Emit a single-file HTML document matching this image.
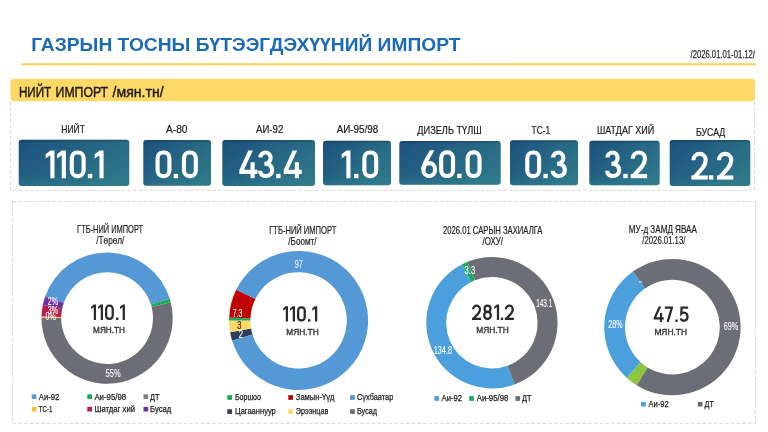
<!DOCTYPE html>
<html><head><meta charset="utf-8"><title>Import</title>
<style>
html,body{margin:0;padding:0;background:#fff;}
body{width:768px;height:432px;overflow:hidden;}
svg{display:block;font-family:"Liberation Sans",sans-serif;will-change:transform;}
</style></head><body>
<svg width="768" height="432" viewBox="0 0 768 432">
<defs>
<linearGradient id="g" x1="0" y1="0" x2="1" y2="0.6">
<stop offset="0" stop-color="#1c517e"/><stop offset="1" stop-color="#2d7588"/>
</linearGradient>
<linearGradient id="gt" x1="0" y1="0" x2="0" y2="1">
<stop offset="0" stop-color="#000" stop-opacity="0.22"/><stop offset="0.07" stop-color="#000" stop-opacity="0"/><stop offset="0.75" stop-color="#3aa0a0" stop-opacity="0"/><stop offset="1" stop-color="#3aa0a0" stop-opacity="0.18"/>
</linearGradient>
<clipPath id="cy"><rect x="-5" y="0" width="40" height="40"/></clipPath>
</defs>
<rect width="768" height="432" fill="#ffffff"/>
<text x="31.2" y="51.2" font-size="19.2" text-anchor="start" fill="#1a6ab6" font-weight="bold" textLength="429.3" lengthAdjust="spacingAndGlyphs" >ГАЗРЫН ТОСНЫ БҮТЭЭГДЭХҮҮНИЙ ИМПОРТ</text>
<line x1="22" y1="64.3" x2="755" y2="64.3" stroke="#f7d358" stroke-width="2" stroke-linecap="round"/>
<text x="755.0" y="58.0" font-size="10.5" text-anchor="end" fill="#2a2a2a" font-weight="normal" textLength="64.5" lengthAdjust="spacingAndGlyphs" stroke="#2a2a2a" stroke-width="0.25">/2026.01.01-01.12/</text>
<rect x="10.5" y="78.7" width="744.5" height="22.6" rx="3" fill="#ffd966"/>
<text x="18.9" y="97.0" font-size="15.5" text-anchor="start" fill="#1a1a1a" font-weight="normal" textLength="32.3" lengthAdjust="spacingAndGlyphs" stroke="#1a1a1a" stroke-width="0.45">НИЙТ</text>
<text x="55.6" y="97.0" font-size="15.5" text-anchor="start" fill="#1a1a1a" font-weight="normal" textLength="52.4" lengthAdjust="spacingAndGlyphs" stroke="#1a1a1a" stroke-width="0.45">ИМПОРТ</text>
<text x="112.6" y="97.0" font-size="15.5" text-anchor="start" fill="#1a1a1a" font-weight="normal" textLength="51.0" lengthAdjust="spacingAndGlyphs" stroke="#1a1a1a" stroke-width="0.45">/мян.тн/</text>
<path d="M10.7 101.5V190.3H754.4V101.5" fill="none" stroke="#bdbdbd" stroke-width="0.6" stroke-dasharray="3.8 1.9"/>
<rect x="12.4" y="201.5" width="743.2" height="221.8" fill="none" stroke="#bdbdbd" stroke-width="0.6" stroke-dasharray="3.8 1.9"/>
<rect x="18.7" y="139.7" width="110.6" height="46.3" rx="3" fill="url(#g)"/>
<rect x="18.7" y="139.7" width="110.6" height="46.3" rx="3" fill="url(#gt)"/>
<text x="61.3" y="132.7" font-size="10.2" text-anchor="start" fill="#222" font-weight="normal" textLength="23.7" lengthAdjust="spacingAndGlyphs" stroke="#222" stroke-width="0.2">НИЙТ</text>
<rect x="143.3" y="140.0" width="67.7" height="45.7" rx="3" fill="url(#g)"/>
<rect x="143.3" y="140.0" width="67.7" height="45.7" rx="3" fill="url(#gt)"/>
<text x="166.0" y="132.7" font-size="10.2" text-anchor="start" fill="#222" font-weight="normal" textLength="21.5" lengthAdjust="spacingAndGlyphs" stroke="#222" stroke-width="0.2">А-80</text>
<rect x="222.3" y="140.0" width="92.7" height="46.0" rx="3" fill="url(#g)"/>
<rect x="222.3" y="140.0" width="92.7" height="46.0" rx="3" fill="url(#gt)"/>
<text x="256.0" y="133.3" font-size="10.2" text-anchor="start" fill="#222" font-weight="normal" textLength="27.3" lengthAdjust="spacingAndGlyphs" stroke="#222" stroke-width="0.2">АИ-92</text>
<rect x="323.0" y="140.7" width="68.0" height="44.6" rx="3" fill="url(#g)"/>
<rect x="323.0" y="140.7" width="68.0" height="44.6" rx="3" fill="url(#gt)"/>
<text x="336.7" y="133.3" font-size="10.2" text-anchor="start" fill="#222" font-weight="normal" textLength="41.6" lengthAdjust="spacingAndGlyphs" stroke="#222" stroke-width="0.2">АИ-95/98</text>
<rect x="399.3" y="141.0" width="101.4" height="43.7" rx="3" fill="url(#g)"/>
<rect x="399.3" y="141.0" width="101.4" height="43.7" rx="3" fill="url(#gt)"/>
<text x="417.3" y="133.7" font-size="10.2" text-anchor="start" fill="#222" font-weight="normal" textLength="64.4" lengthAdjust="spacingAndGlyphs" stroke="#222" stroke-width="0.2">ДИЗЕЛЬ ТҮЛШ</text>
<rect x="510.0" y="140.3" width="68.0" height="45.0" rx="3" fill="url(#g)"/>
<rect x="510.0" y="140.3" width="68.0" height="45.0" rx="3" fill="url(#gt)"/>
<text x="531.5" y="133.7" font-size="10.2" text-anchor="start" fill="#222" font-weight="normal" textLength="18.7" lengthAdjust="spacingAndGlyphs" stroke="#222" stroke-width="0.2">ТС-1</text>
<rect x="589.3" y="140.7" width="70.4" height="44.6" rx="3" fill="url(#g)"/>
<rect x="589.3" y="140.7" width="70.4" height="44.6" rx="3" fill="url(#gt)"/>
<text x="597.0" y="134.0" font-size="10.2" text-anchor="start" fill="#222" font-weight="normal" textLength="57.3" lengthAdjust="spacingAndGlyphs" stroke="#222" stroke-width="0.2">ШАТДАГ ХИЙ</text>
<rect x="669.7" y="140.0" width="80.6" height="46.0" rx="3" fill="url(#g)"/>
<rect x="669.7" y="140.0" width="80.6" height="46.0" rx="3" fill="url(#gt)"/>
<text x="696.0" y="136.0" font-size="10.2" text-anchor="start" fill="#222" font-weight="normal" textLength="29.3" lengthAdjust="spacingAndGlyphs" stroke="#222" stroke-width="0.2">БУСАД</text>
<g transform="translate(45.60 150.40) scale(1.0000)"><path d="M4.75 0H8.9V27.8H4.75V4.75L0 8.05V3.9Z" fill="#fff"/></g><g transform="translate(57.00 150.40) scale(1.0000)"><path d="M4.75 0H8.9V27.8H4.75V4.75L0 8.05V3.9Z" fill="#fff"/></g><g transform="translate(69.70 150.40) scale(1.0000)"><rect x="2.075" y="2.075" width="11.85" height="23.65" rx="5.225" ry="5.925" fill="none" stroke="#fff" stroke-width="4.15"/></g><g transform="translate(87.90 150.40) scale(1.0000)"><rect x="0" y="23.45" width="4.3500000000000005" height="4.3500000000000005" fill="#fff"/></g><g transform="translate(94.70 150.40) scale(1.0000)"><path d="M4.75 0H8.9V27.8H4.75V4.75L0 8.05V3.9Z" fill="#fff"/></g>
<g transform="translate(155.50 150.40) scale(1.0000)"><rect x="2.075" y="2.075" width="11.85" height="23.65" rx="5.225" ry="5.925" fill="none" stroke="#fff" stroke-width="4.15"/></g><g transform="translate(173.70 150.40) scale(1.0000)"><rect x="0" y="23.45" width="4.3500000000000005" height="4.3500000000000005" fill="#fff"/></g><g transform="translate(181.90 150.40) scale(1.0000)"><rect x="2.075" y="2.075" width="11.85" height="23.65" rx="5.225" ry="5.925" fill="none" stroke="#fff" stroke-width="4.15"/></g>
<g transform="translate(239.30 150.40) scale(1.0000)"><path d="M9 0H13.565000000000001L4.665 19.4H18.2V23.549999999999997H0V19.799999999999997Z" fill="#fff"/><rect x="11.225000000000001" y="11.8" width="4.15" height="16.0" fill="#fff"/></g><g transform="translate(258.00 150.40) scale(1.0000)"><path d="M2.475 7.2C2.475 0.3 12.625 0.3 12.625 7.6C12.625 11.2 10.2 13.3 6.4 13.3M6.4 13.3C11 13.3 14.125 15.4 14.125 19.8C14.125 27.5 2.075 27.5 2.075 20.4" fill="none" stroke="#fff" stroke-width="4.15"/></g><g transform="translate(276.20 150.40) scale(1.0000)"><rect x="0" y="23.45" width="4.3500000000000005" height="4.3500000000000005" fill="#fff"/></g><g transform="translate(283.60 150.40) scale(1.0000)"><path d="M9 0H13.565000000000001L4.665 19.4H18.2V23.549999999999997H0V19.799999999999997Z" fill="#fff"/><rect x="11.225000000000001" y="11.8" width="4.15" height="16.0" fill="#fff"/></g>
<g transform="translate(341.60 150.40) scale(1.0000)"><path d="M4.75 0H8.9V27.8H4.75V4.75L0 8.05V3.9Z" fill="#fff"/></g><g transform="translate(354.10 150.40) scale(1.0000)"><rect x="0" y="23.45" width="4.3500000000000005" height="4.3500000000000005" fill="#fff"/></g><g transform="translate(362.30 150.40) scale(1.0000)"><rect x="2.075" y="2.075" width="11.85" height="23.65" rx="5.225" ry="5.925" fill="none" stroke="#fff" stroke-width="4.15"/></g>
<g transform="translate(421.30 150.30) scale(1.0000)"><rect x="2.075" y="12.875" width="11.65" height="12.85" rx="5.825" fill="none" stroke="#fff" stroke-width="4.15"/><path d="M11.2 -1C8.6 5.5 2.075 12 2.075 19.3" fill="none" stroke="#fff" stroke-width="4.15" clip-path="url(#cy)"/></g><g transform="translate(439.10 150.30) scale(1.0000)"><rect x="2.075" y="2.075" width="11.85" height="23.65" rx="5.225" ry="5.925" fill="none" stroke="#fff" stroke-width="4.15"/></g><g transform="translate(457.20 150.30) scale(1.0000)"><rect x="0" y="23.45" width="4.3500000000000005" height="4.3500000000000005" fill="#fff"/></g><g transform="translate(465.60 150.30) scale(1.0000)"><rect x="2.075" y="2.075" width="11.85" height="23.65" rx="5.225" ry="5.925" fill="none" stroke="#fff" stroke-width="4.15"/></g>
<g transform="translate(525.20 150.40) scale(1.0000)"><rect x="2.075" y="2.075" width="11.85" height="23.65" rx="5.225" ry="5.925" fill="none" stroke="#fff" stroke-width="4.15"/></g><g transform="translate(543.40 150.40) scale(1.0000)"><rect x="0" y="23.45" width="4.3500000000000005" height="4.3500000000000005" fill="#fff"/></g><g transform="translate(550.70 150.40) scale(1.0000)"><path d="M2.475 7.2C2.475 0.3 12.625 0.3 12.625 7.6C12.625 11.2 10.2 13.3 6.4 13.3M6.4 13.3C11 13.3 14.125 15.4 14.125 19.8C14.125 27.5 2.075 27.5 2.075 20.4" fill="none" stroke="#fff" stroke-width="4.15"/></g>
<g transform="translate(605.00 150.40) scale(1.0000)"><path d="M2.475 7.2C2.475 0.3 12.625 0.3 12.625 7.6C12.625 11.2 10.2 13.3 6.4 13.3M6.4 13.3C11 13.3 14.125 15.4 14.125 19.8C14.125 27.5 2.075 27.5 2.075 20.4" fill="none" stroke="#fff" stroke-width="4.15"/></g><g transform="translate(623.30 150.40) scale(1.0000)"><rect x="0" y="23.45" width="4.3500000000000005" height="4.3500000000000005" fill="#fff"/></g><g transform="translate(630.70 150.40) scale(1.0000)"><path d="M2.075 8.4V8.2A6.124999999999999 6.124999999999999 0 0 1 14.325 8.2C14.325 11.6 13.125 13.6 11.325 16L2.6750000000000003 25.725" fill="none" stroke="#fff" stroke-width="4.15"/><rect x="0" y="23.65" width="16.4" height="4.15" fill="#fff"/></g>
<g transform="translate(691.40 151.80) scale(1.0000)"><path d="M2.075 8.4V8.2A6.124999999999999 6.124999999999999 0 0 1 14.325 8.2C14.325 11.6 13.125 13.6 11.325 16L2.6750000000000003 25.725" fill="none" stroke="#fff" stroke-width="4.15"/><rect x="0" y="23.65" width="16.4" height="4.15" fill="#fff"/></g><g transform="translate(708.90 151.80) scale(1.0000)"><rect x="0" y="23.45" width="4.3500000000000005" height="4.3500000000000005" fill="#fff"/></g><g transform="translate(716.90 151.80) scale(1.0000)"><path d="M2.075 8.4V8.2A6.124999999999999 6.124999999999999 0 0 1 14.325 8.2C14.325 11.6 13.125 13.6 11.325 16L2.6750000000000003 25.725" fill="none" stroke="#fff" stroke-width="4.15"/><rect x="0" y="23.65" width="16.4" height="4.15" fill="#fff"/></g>
<path d="M45.15 296.53A65.6 65.6 0 0 1 169.80 298.81L150.97 304.60A45.9 45.9 0 0 0 63.75 303.01Z" fill="#5598d6" />
<path d="M169.80 298.81A65.6 65.6 0 0 1 170.78 302.34L151.66 307.07A45.9 45.9 0 0 0 150.97 304.60Z" fill="#1aab5a" />
<path d="M170.78 302.34A65.6 65.6 0 1 1 41.50 317.76L61.20 317.86A45.9 45.9 0 1 0 151.66 307.07Z" fill="#6c6d76" />
<path d="M41.50 317.76A65.6 65.6 0 0 1 41.52 316.38L61.22 316.90A45.9 45.9 0 0 0 61.20 317.86Z" fill="#f2c232" />
<path d="M41.52 316.38A65.6 65.6 0 0 1 42.82 305.02L62.12 308.95A45.9 45.9 0 0 0 61.22 316.90Z" fill="#b3204d" />
<path d="M42.82 305.02A65.6 65.6 0 0 1 45.15 296.53L63.75 303.01A45.9 45.9 0 0 0 62.12 308.95Z" fill="#7030a0" />
<path d="M232.17 340.84A69.5 69.5 0 0 1 230.11 332.23L251.10 328.60A48.2 48.2 0 0 0 252.53 334.57Z" fill="#2f3f5c" />
<path d="M230.11 332.23A69.5 69.5 0 0 1 229.10 320.40L250.40 320.40A48.2 48.2 0 0 0 251.10 328.60Z" fill="#ffd966" />
<path d="M229.10 320.40A69.5 69.5 0 0 1 229.16 317.49L250.44 318.38A48.2 48.2 0 0 0 250.40 320.40Z" fill="#1aab5a" />
<path d="M229.16 317.49A69.5 69.5 0 0 1 236.24 289.72L255.35 299.12A48.2 48.2 0 0 0 250.44 318.38Z" fill="#c00000" />
<path d="M236.24 289.72A69.5 69.5 0 1 1 232.17 340.84L252.53 334.57A48.2 48.2 0 1 0 255.35 299.12Z" fill="#5598d6" />
<path d="M514.47 384.44A65.7 65.7 0 0 1 462.17 264.16L471.21 281.89A45.8 45.8 0 0 0 507.66 365.74Z" fill="#4a9fdc" />
<path d="M462.17 264.16A65.7 65.7 0 0 1 467.39 261.78L474.84 280.23A45.8 45.8 0 0 0 471.21 281.89Z" fill="#1aab5a" />
<path d="M467.39 261.78A65.7 65.7 0 1 1 514.47 384.44L507.66 365.74A45.8 45.8 0 1 0 474.84 280.23Z" fill="#6c6d76" />
<path d="M632.80 271.58A68.2 68.2 0 1 1 636.56 385.13L647.49 367.43A47.4 47.4 0 1 0 644.87 288.51Z" fill="#6c6d76" />
<path d="M636.56 385.13A68.2 68.2 0 0 1 626.68 377.70L640.62 362.27A47.4 47.4 0 0 0 647.49 367.43Z" fill="#8cc63f" />
<path d="M626.68 377.70A68.2 68.2 0 0 1 632.80 271.58L644.87 288.51A47.4 47.4 0 0 0 640.62 362.27Z" fill="#4a9fdc" />
<text x="77.1" y="232.9" font-size="10.2" text-anchor="start" fill="#222" font-weight="normal" textLength="66.0" lengthAdjust="spacingAndGlyphs" stroke="#222" stroke-width="0.2">ГТБ-НИЙ ИМПОРТ</text>
<text x="96.3" y="244.0" font-size="10.2" text-anchor="start" fill="#222" font-weight="normal" textLength="28.1" lengthAdjust="spacingAndGlyphs" stroke="#222" stroke-width="0.2">/Төрөл/</text>
<text x="269.2" y="234.0" font-size="10.2" text-anchor="start" fill="#222" font-weight="normal" textLength="67.1" lengthAdjust="spacingAndGlyphs" stroke="#222" stroke-width="0.2">ГТБ-НИЙ ИМПОРТ</text>
<text x="288.3" y="245.0" font-size="10.2" text-anchor="start" fill="#222" font-weight="normal" textLength="28.2" lengthAdjust="spacingAndGlyphs" stroke="#222" stroke-width="0.2">/Боомт/</text>
<text x="442.9" y="234.4" font-size="10.2" text-anchor="start" fill="#222" font-weight="normal" textLength="99.6" lengthAdjust="spacingAndGlyphs" stroke="#222" stroke-width="0.2">2026.01 САРЫН ЗАХИАЛГА</text>
<text x="482.5" y="245.4" font-size="10.2" text-anchor="start" fill="#222" font-weight="normal" textLength="20.5" lengthAdjust="spacingAndGlyphs" stroke="#222" stroke-width="0.2">/ОХУ/</text>
<text x="628.8" y="232.9" font-size="10.2" text-anchor="start" fill="#222" font-weight="normal" textLength="68.1" lengthAdjust="spacingAndGlyphs" stroke="#222" stroke-width="0.2">МУ-д ЗАМД ЯВАА</text>
<text x="642.3" y="243.8" font-size="10.2" text-anchor="start" fill="#222" font-weight="normal" textLength="43.1" lengthAdjust="spacingAndGlyphs" stroke="#222" stroke-width="0.2">/2026.01.13/</text>
<g transform="translate(91.10 304.60) scale(0.5540)"><path d="M4.800000000000001 0H8.9V27.8H4.800000000000001V4.699999999999999L0 8.0V3.9Z" fill="#2a2a2a"/></g><g transform="translate(98.10 304.60) scale(0.5540)"><path d="M4.800000000000001 0H8.9V27.8H4.800000000000001V4.699999999999999L0 8.0V3.9Z" fill="#2a2a2a"/></g><g transform="translate(105.00 304.60) scale(0.5540)"><rect x="2.05" y="2.05" width="11.9" height="23.700000000000003" rx="5.25" ry="5.95" fill="none" stroke="#2a2a2a" stroke-width="4.1"/></g><g transform="translate(116.00 304.60) scale(0.5540)"><rect x="0" y="23.5" width="4.3" height="4.3" fill="#2a2a2a"/></g><g transform="translate(120.00 304.60) scale(0.5540)"><path d="M4.800000000000001 0H8.9V27.8H4.800000000000001V4.699999999999999L0 8.0V3.9Z" fill="#2a2a2a"/></g>
<text x="93.1" y="333.0" font-size="8.8" text-anchor="start" fill="#333" font-weight="normal" textLength="31.7" lengthAdjust="spacingAndGlyphs" stroke="#333" stroke-width="0.35">МЯН.ТН</text>
<g transform="translate(283.10 306.20) scale(0.5540)"><path d="M4.800000000000001 0H8.9V27.8H4.800000000000001V4.699999999999999L0 8.0V3.9Z" fill="#2a2a2a"/></g><g transform="translate(290.10 306.20) scale(0.5540)"><path d="M4.800000000000001 0H8.9V27.8H4.800000000000001V4.699999999999999L0 8.0V3.9Z" fill="#2a2a2a"/></g><g transform="translate(297.00 306.20) scale(0.5540)"><rect x="2.05" y="2.05" width="11.9" height="23.700000000000003" rx="5.25" ry="5.95" fill="none" stroke="#2a2a2a" stroke-width="4.1"/></g><g transform="translate(308.00 306.20) scale(0.5540)"><rect x="0" y="23.5" width="4.3" height="4.3" fill="#2a2a2a"/></g><g transform="translate(312.30 306.20) scale(0.5540)"><path d="M4.800000000000001 0H8.9V27.8H4.800000000000001V4.699999999999999L0 8.0V3.9Z" fill="#2a2a2a"/></g>
<text x="286.2" y="334.5" font-size="8.8" text-anchor="start" fill="#333" font-weight="normal" textLength="32.5" lengthAdjust="spacingAndGlyphs" stroke="#333" stroke-width="0.35">МЯН.ТН</text>
<g transform="translate(472.00 304.60) scale(0.5540)"><path d="M2.05 8.4V8.2A6.1499999999999995 6.1499999999999995 0 0 1 14.349999999999998 8.2C14.349999999999998 11.6 13.149999999999999 13.6 11.349999999999998 16L2.65 25.75" fill="none" stroke="#2a2a2a" stroke-width="4.1"/><rect x="0" y="23.700000000000003" width="16.4" height="4.1" fill="#2a2a2a"/></g><g transform="translate(483.10 304.60) scale(0.5540)"><rect x="2.75" y="2.05" width="10.5" height="11.2" rx="5.25" ry="5.4" fill="none" stroke="#2a2a2a" stroke-width="4.1"/><rect x="2.05" y="13.25" width="11.9" height="12.500000000000004" rx="5.95" ry="6" fill="none" stroke="#2a2a2a" stroke-width="4.1"/></g><g transform="translate(494.20 304.60) scale(0.5540)"><path d="M4.800000000000001 0H8.9V27.8H4.800000000000001V4.699999999999999L0 8.0V3.9Z" fill="#2a2a2a"/></g><g transform="translate(500.80 304.60) scale(0.5540)"><rect x="0" y="23.5" width="4.3" height="4.3" fill="#2a2a2a"/></g><g transform="translate(504.80 304.60) scale(0.5540)"><path d="M2.05 8.4V8.2A6.1499999999999995 6.1499999999999995 0 0 1 14.349999999999998 8.2C14.349999999999998 11.6 13.149999999999999 13.6 11.349999999999998 16L2.65 25.75" fill="none" stroke="#2a2a2a" stroke-width="4.1"/><rect x="0" y="23.700000000000003" width="16.4" height="4.1" fill="#2a2a2a"/></g>
<text x="476.2" y="332.9" font-size="8.8" text-anchor="start" fill="#333" font-weight="normal" textLength="32.5" lengthAdjust="spacingAndGlyphs" stroke="#333" stroke-width="0.35">МЯН.ТН</text>
<g transform="translate(653.70 306.50) scale(0.5540)"><path d="M9 0H13.51L4.609999999999999 19.4H18.2V23.5H0V19.799999999999997Z" fill="#2a2a2a"/><rect x="11.25" y="11.8" width="4.1" height="16.0" fill="#2a2a2a"/></g><g transform="translate(664.80 306.50) scale(0.5540)"><path d="M0 2.05H12.849999999999998L5.2 27.8" fill="none" stroke="#2a2a2a" stroke-width="4.1" stroke-linejoin="miter"/></g><g transform="translate(675.40 306.50) scale(0.5540)"><rect x="0" y="23.5" width="4.3" height="4.3" fill="#2a2a2a"/></g><g transform="translate(679.80 306.50) scale(0.5540)"><path d="M15.0 2.05H3.2L2.8 12.6C5 10.2 13.95 9.4 13.95 18.6C13.95 27.6 2.05 27.6 2.05 21.2" fill="none" stroke="#2a2a2a" stroke-width="4.1" stroke-linejoin="miter"/></g>
<text x="654.4" y="334.7" font-size="8.8" text-anchor="start" fill="#333" font-weight="normal" textLength="32.6" lengthAdjust="spacingAndGlyphs" stroke="#333" stroke-width="0.35">МЯН.ТН</text>
<text x="47.8" y="304.8" font-size="10.0" text-anchor="start" fill="#fff" font-weight="normal" textLength="10.3" lengthAdjust="spacingAndGlyphs" stroke="#fff" stroke-width="0.12">2%</text>
<text x="47.8" y="313.7" font-size="10.0" text-anchor="start" fill="#fff" font-weight="normal" textLength="10.3" lengthAdjust="spacingAndGlyphs" stroke="#fff" stroke-width="0.12">3%</text>
<text x="45.6" y="319.9" font-size="10.0" text-anchor="start" fill="#fff" font-weight="normal" textLength="10.3" lengthAdjust="spacingAndGlyphs" stroke="#fff" stroke-width="0.12">0%</text>
<text x="105.6" y="377.2" font-size="10.0" text-anchor="start" fill="#fff" font-weight="normal" textLength="15.0" lengthAdjust="spacingAndGlyphs" stroke="#fff" stroke-width="0.12">55%</text>
<text x="294.8" y="267.6" font-size="10.0" text-anchor="start" fill="#e8f1fa" font-weight="normal" textLength="8.1" lengthAdjust="spacingAndGlyphs" stroke="#e8f1fa" stroke-width="0.12">97</text>
<text x="232.7" y="317.3" font-size="10.0" text-anchor="start" fill="#fff" font-weight="normal" textLength="9.6" lengthAdjust="spacingAndGlyphs" stroke="#fff" stroke-width="0.12">7.3</text>
<text x="236.9" y="328.6" font-size="10.0" text-anchor="start" fill="#222" font-weight="normal" textLength="4.4" lengthAdjust="spacingAndGlyphs" stroke="#222" stroke-width="0.12">3</text>
<text x="238.8" y="337.7" font-size="10.0" text-anchor="start" fill="#fff" font-weight="normal" textLength="4.3" lengthAdjust="spacingAndGlyphs" stroke="#fff" stroke-width="0.12">2</text>
<text x="464.6" y="274.0" font-size="10.0" text-anchor="start" fill="#fff" font-weight="normal" textLength="10.6" lengthAdjust="spacingAndGlyphs" stroke="#fff" stroke-width="0.12">3.3</text>
<text x="536.2" y="307.0" font-size="10.0" text-anchor="start" fill="#fff" font-weight="normal" textLength="16.0" lengthAdjust="spacingAndGlyphs" stroke="#fff" stroke-width="0.12">143.1</text>
<text x="433.7" y="354.2" font-size="10.0" text-anchor="start" fill="#fff" font-weight="normal" textLength="18.3" lengthAdjust="spacingAndGlyphs" stroke="#fff" stroke-width="0.12">134.8</text>
<text x="608.3" y="328.4" font-size="10.0" text-anchor="start" fill="#fff" font-weight="normal" textLength="14.5" lengthAdjust="spacingAndGlyphs" stroke="#fff" stroke-width="0.12">28%</text>
<text x="723.7" y="330.0" font-size="10.0" text-anchor="start" fill="#fff" font-weight="normal" textLength="14.5" lengthAdjust="spacingAndGlyphs" stroke="#fff" stroke-width="0.12">69%</text>
<rect x="638.8" y="281.5" width="3.3" height="0.9" fill="#fff"/>
<rect x="31.7" y="394.35" width="4.7" height="4.7" fill="#5598d6"/>
<text x="38.8" y="399.7" font-size="9.0" text-anchor="start" fill="#1c1c1c" font-weight="normal" textLength="20.5" lengthAdjust="spacingAndGlyphs" stroke="#1c1c1c" stroke-width="0.25">Аи-92</text>
<rect x="87.3" y="394.35" width="4.7" height="4.7" fill="#1aab5a"/>
<text x="94.4" y="399.7" font-size="9.0" text-anchor="start" fill="#1c1c1c" font-weight="normal" textLength="31.7" lengthAdjust="spacingAndGlyphs" stroke="#1c1c1c" stroke-width="0.25">Аи-95/98</text>
<rect x="143.5" y="394.35" width="4.7" height="4.7" fill="#7f7f7f"/>
<text x="150.0" y="399.7" font-size="9.0" text-anchor="start" fill="#1c1c1c" font-weight="normal" textLength="9.5" lengthAdjust="spacingAndGlyphs" stroke="#1c1c1c" stroke-width="0.25">ДТ</text>
<rect x="31.7" y="406.85" width="4.7" height="4.7" fill="#f2c232"/>
<text x="38.8" y="412.2" font-size="9.0" text-anchor="start" fill="#1c1c1c" font-weight="normal" textLength="13.7" lengthAdjust="spacingAndGlyphs" stroke="#1c1c1c" stroke-width="0.25">ТС-1</text>
<rect x="87.3" y="406.85" width="4.7" height="4.7" fill="#b3204d"/>
<text x="94.4" y="412.2" font-size="9.0" text-anchor="start" fill="#1c1c1c" font-weight="normal" textLength="40.6" lengthAdjust="spacingAndGlyphs" stroke="#1c1c1c" stroke-width="0.25">Шатдаг хий</text>
<rect x="143.5" y="406.85" width="4.7" height="4.7" fill="#7030a0"/>
<text x="150.0" y="412.2" font-size="9.0" text-anchor="start" fill="#1c1c1c" font-weight="normal" textLength="21.3" lengthAdjust="spacingAndGlyphs" stroke="#1c1c1c" stroke-width="0.25">Бусад</text>
<rect x="227.3" y="395.15" width="4.7" height="4.7" fill="#1aab5a"/>
<text x="234.9" y="400.2" font-size="9.0" text-anchor="start" fill="#1c1c1c" font-weight="normal" textLength="26.1" lengthAdjust="spacingAndGlyphs" stroke="#1c1c1c" stroke-width="0.25">Боршоо</text>
<rect x="288.3" y="395.15" width="4.7" height="4.7" fill="#c00000"/>
<text x="295.8" y="400.2" font-size="9.0" text-anchor="start" fill="#1c1c1c" font-weight="normal" textLength="38.7" lengthAdjust="spacingAndGlyphs" stroke="#1c1c1c" stroke-width="0.25">Замын-Үүд</text>
<rect x="350.1" y="395.15" width="4.7" height="4.7" fill="#5598d6"/>
<text x="357.0" y="400.2" font-size="9.0" text-anchor="start" fill="#1c1c1c" font-weight="normal" textLength="36.3" lengthAdjust="spacingAndGlyphs" stroke="#1c1c1c" stroke-width="0.25">Сүхбаатар</text>
<rect x="227.3" y="409.25" width="4.7" height="4.7" fill="#3b4354"/>
<text x="234.9" y="414.2" font-size="9.0" text-anchor="start" fill="#1c1c1c" font-weight="normal" textLength="40.9" lengthAdjust="spacingAndGlyphs" stroke="#1c1c1c" stroke-width="0.25">Цагааннуур</text>
<rect x="288.3" y="409.25" width="4.7" height="4.7" fill="#ffd966"/>
<text x="295.8" y="414.2" font-size="9.0" text-anchor="start" fill="#1c1c1c" font-weight="normal" textLength="32.5" lengthAdjust="spacingAndGlyphs" stroke="#1c1c1c" stroke-width="0.25">Эрээнцав</text>
<rect x="350.1" y="409.25" width="4.7" height="4.7" fill="#6d6d6d"/>
<text x="357.0" y="414.2" font-size="9.0" text-anchor="start" fill="#1c1c1c" font-weight="normal" textLength="20.0" lengthAdjust="spacingAndGlyphs" stroke="#1c1c1c" stroke-width="0.25">Бусад</text>
<rect x="434.4" y="396.15" width="4.7" height="4.7" fill="#4a9fdc"/>
<text x="441.5" y="401.4" font-size="9.0" text-anchor="start" fill="#1c1c1c" font-weight="normal" textLength="20.6" lengthAdjust="spacingAndGlyphs" stroke="#1c1c1c" stroke-width="0.25">Аи-92</text>
<rect x="469.2" y="396.15" width="4.7" height="4.7" fill="#1aab5a"/>
<text x="476.7" y="401.4" font-size="9.0" text-anchor="start" fill="#1c1c1c" font-weight="normal" textLength="31.7" lengthAdjust="spacingAndGlyphs" stroke="#1c1c1c" stroke-width="0.25">Аи-95/98</text>
<rect x="515.4" y="396.15" width="4.7" height="4.7" fill="#6d6d6d"/>
<text x="522.1" y="401.4" font-size="9.0" text-anchor="start" fill="#1c1c1c" font-weight="normal" textLength="9.4" lengthAdjust="spacingAndGlyphs" stroke="#1c1c1c" stroke-width="0.25">ДТ</text>
<rect x="641.1" y="401.85" width="4.7" height="4.7" fill="#4a9fdc"/>
<text x="648.4" y="407.2" font-size="9.0" text-anchor="start" fill="#1c1c1c" font-weight="normal" textLength="20.4" lengthAdjust="spacingAndGlyphs" stroke="#1c1c1c" stroke-width="0.25">Аи-92</text>
<rect x="697.8" y="401.85" width="4.7" height="4.7" fill="#6c6d76"/>
<text x="704.6" y="407.2" font-size="9.0" text-anchor="start" fill="#1c1c1c" font-weight="normal" textLength="9.2" lengthAdjust="spacingAndGlyphs" stroke="#1c1c1c" stroke-width="0.25">ДТ</text>
</svg></body></html>
